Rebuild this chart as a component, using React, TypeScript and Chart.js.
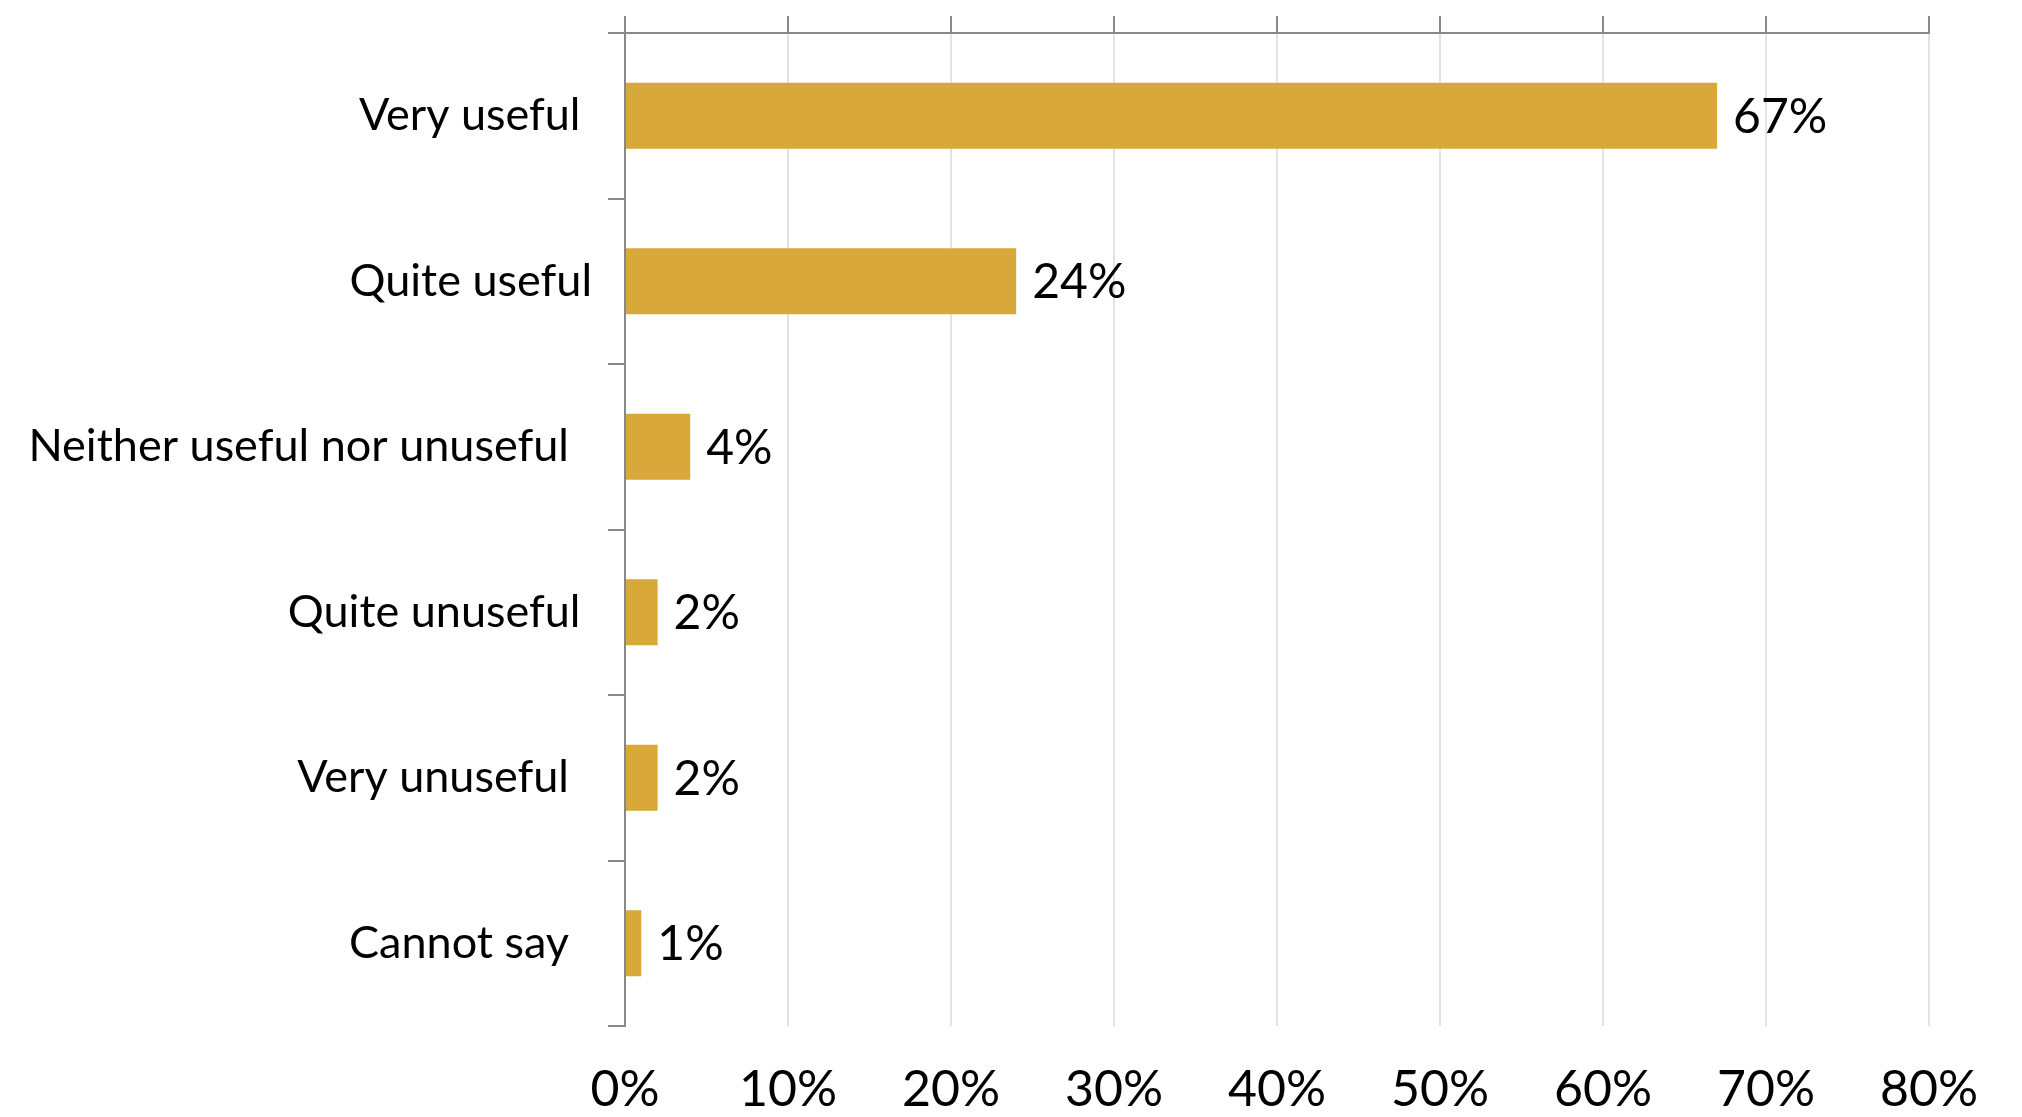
import React, { useEffect, useRef } from "react";
import { Chart, registerables } from "chart.js";

Chart.register(...registerables);

const categories = [
  "Very useful ",
  "Quite useful",
  "Neither useful nor unuseful  ",
  "Quite unuseful ",
  "Very unuseful  ",
  "Cannot say  ",
];
const values = [67, 24, 4, 2, 2, 1];
const tickLabels = ["0%", "10%", "20%", "30%", "40%", "50%", "60%", "70%", "80%"];
const axisMin = 0;
const axisMax = 80;
const axisStep = 10;

const BAR_COLOR = "#D8A83B";
const AXIS_COLOR = "#888888";
const GRID_COLOR = "#E2E2E2";
const FONT = "Lato";

const dataLabelPlugin = {
  id: "dataLabels",
  afterDatasetsDraw(chart: any) {
    const ctx = chart.ctx;
    const meta = chart.getDatasetMeta(0);
    ctx.save();
    ctx.font = `48px ${FONT}`;
    ctx.fillStyle = "#000";
    ctx.textAlign = "left";
    ctx.textBaseline = "alphabetic";
    meta.data.forEach((bar: any, i: number) => {
      ctx.fillText(values[i] + "%", bar.x + 16, bar.y + 17);
    });
    ctx.restore();
  },
};

export default function App() {
  const ref = useRef<HTMLCanvasElement | null>(null);
  useEffect(() => {
    if (!ref.current) return;
    const chart = new Chart(ref.current, {
      type: "bar",
      data: {
        labels: categories,
        datasets: [
          {
            data: values,
            backgroundColor: BAR_COLOR,
            borderWidth: 0,
            barPercentage: 0.4,
            categoryPercentage: 1,
            xAxisID: "x",
            yAxisID: "y",
          },
        ],
      },
      options: {
        indexAxis: "y",
        animation: false,
        responsive: false,
        maintainAspectRatio: false,
        devicePixelRatio: 1,
        layout: { padding: { top: 16, right: 93, left: 0, bottom: 0 } },
        plugins: {
          legend: { display: false },
          tooltip: { enabled: false },
        },
        scales: {
          x: {
            type: "linear",
            position: "bottom",
            min: axisMin,
            max: axisMax,
            ticks: {
              stepSize: axisStep,
              color: "#000",
              font: { family: FONT, size: 50 },
              padding: 34,
              callback: (_v: any, i: number) => tickLabels[i],
            },
            grid: {
              drawTicks: false,
              lineWidth: 2,
              color: (c: any) => (c.index === 0 ? "rgba(0,0,0,0)" : GRID_COLOR),
            },
            border: { display: false },
            afterFit: (s: any) => {
              s.height = 91;
              s.paddingLeft = 0;
              s.paddingRight = 0;
            },
          },
          x2: {
            type: "linear",
            position: "top",
            min: axisMin,
            max: axisMax,
            ticks: { stepSize: axisStep, display: false },
            grid: {
              drawOnChartArea: false,
              drawTicks: true,
              tickLength: 17,
              lineWidth: 2,
              color: AXIS_COLOR,
            },
            border: { display: true, color: AXIS_COLOR, width: 2 },
            afterFit: (s: any) => {
              s.height = 17;
              s.paddingLeft = 0;
              s.paddingRight = 0;
            },
          },
          y: {
            type: "category",
            position: "left",
            ticks: {
              color: "#000",
              font: { family: FONT, size: 45 },
              padding: 16,
            },
            grid: {
              offset: true,
              drawOnChartArea: false,
              drawTicks: true,
              tickLength: 17,
              lineWidth: 2,
              color: AXIS_COLOR,
            },
            border: { display: true, color: AXIS_COLOR, width: 2 },
            afterFit: (s: any) => {
              s.width = 625;
              s.paddingTop = 0;
              s.paddingBottom = 0;
            },
          },
        },
      },
      plugins: [dataLabelPlugin],
    } as any);
    return () => chart.destroy();
  }, []);

  return (
    <div style={{ position: "fixed", left: 0, top: 0, width: 2022, height: 1117, background: "#fff" }}>
      <canvas ref={ref} width={2022} height={1117} style={{ width: 2022, height: 1117, display: "block" }} />
    </div>
  );
}
